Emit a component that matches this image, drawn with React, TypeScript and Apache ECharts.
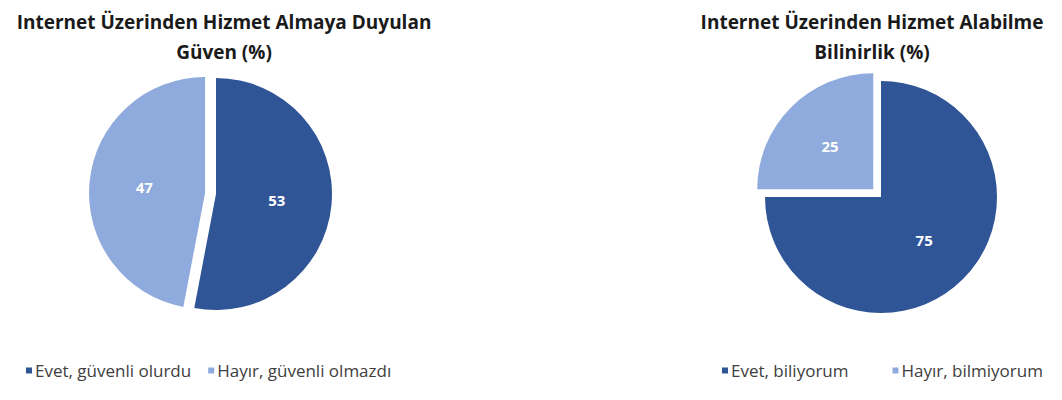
import React, { useEffect, useRef } from 'react'
import * as echarts from 'echarts'

const trustNames = ['Evet, güvenli olurdu', 'Hayır, güvenli olmazdı']
const trustValues = [53, 47]

const awareNames = ['Evet, biliyorum', 'Hayır, bilmiyorum']
const awareValues = [75, 25]

const leftTitle = ['Internet Üzerinden Hizmet Almaya Duyulan', 'Güven (%)']
const rightTitle = ['Internet Üzerinden Hizmet Alabilme', 'Bilinirlik (%)']

const colors = ['#2F5597', '#8FAADC']
const FONT = '"Open Sans", "Noto Sans", sans-serif'

export default function App() {
  const chartRef = useRef<HTMLDivElement>(null)

  useEffect(() => {
    document.body.style.margin = '0'
    if (!chartRef.current) return
    const chart = echarts.init(chartRef.current, null, { renderer: 'svg' })

    const titleText = (lines: string[], x: number) =>
      lines.map((t, i) => ({
        type: 'text',
        x,
        y: 22 + i * 30,
        style: {
          text: t,
          textAlign: 'center',
          textVerticalAlign: 'middle',
          fill: '#1a1a1a',
          font: `bold 19px ${FONT}`
        }
      }))

    const pieSeries = (names: string[], values: number[], center: number[], explodeIdx: number) => ({
      type: 'pie',
      center,
      radius: 116,
      startAngle: 90,
      clockwise: true,
      selectedMode: 'single',
      selectedOffset: 11,
      avoidLabelOverlap: false,
      emphasis: { disabled: true },
      label: {
        show: true,
        position: 'inside',
        formatter: '{c}',
        color: '#ffffff',
        fontWeight: 'bold',
        fontSize: 15,
        fontFamily: FONT
      },
      labelLine: { show: false },
      itemStyle: { borderWidth: 0 },
      data: names.map((n, i) => ({
        name: n,
        value: values[i],
        selected: i === explodeIdx,
        itemStyle: { color: colors[i] }
      }))
    })

    const legendBase = {
      orient: 'horizontal',
      icon: 'rect',
      itemWidth: 6,
      itemHeight: 6,
      selectedMode: false,
      textStyle: { color: '#404040', fontSize: 17, fontFamily: FONT, padding: [0, 0, 0, -2] }
    }

    chart.setOption({
      animation: false,
      graphic: [...titleText(leftTitle, 224), ...titleText(rightTitle, 872)],
      legend: [
        { ...legendBase, data: trustNames, left: 21, top: 357, itemGap: 17 },
        { ...legendBase, data: awareNames, left: 717, top: 357, itemGap: 44 }
      ],
      series: [
        pieSeries(trustNames, trustValues, [216, 194], 1),
        pieSeries(awareNames, awareValues, [881, 197], 1)
      ]
    })

    return () => {
      chart.dispose()
    }
  }, [])

  return <div ref={chartRef} style={{ width: 1062, height: 400, background: '#fff' }} />
}
